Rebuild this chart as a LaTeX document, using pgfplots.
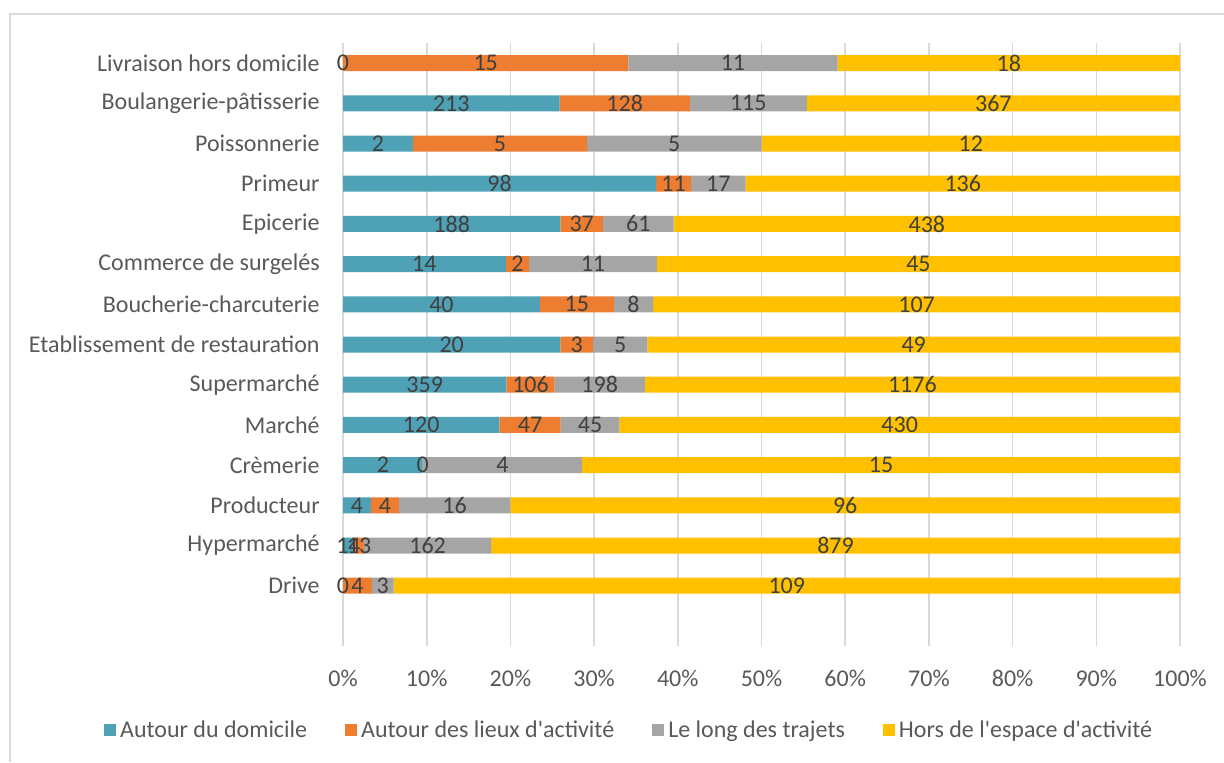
\documentclass[border=0pt]{standalone}
\usepackage{fontspec}
\setmainfont{Carlito}
\usepackage{pgfplots}
\usepackage{pgfplotstable}
\pgfplotsset{compat=1.18}

\definecolor{cA}{HTML}{4FA1B5}
\definecolor{cB}{HTML}{ED7D31}
\definecolor{cC}{HTML}{A5A5A5}
\definecolor{cD}{HTML}{FFC000}
\definecolor{gridgray}{HTML}{D9D9D9}
\definecolor{labgray}{HTML}{595959}
\definecolor{dlgray}{HTML}{404040}
\newcommand\lab{\fontsize{12}{14}\selectfont}
\newcommand\q{\textquotesingle}

% counts per place: A domicile, B lieux d'activite, C trajets, D hors espace
\pgfplotstableread{
idx A B C D
1 0 4 3 109
2 14 13 162 879
3 4 4 16 96
4 2 0 4 15
5 120 47 45 430
6 359 106 198 1176
7 20 3 5 49
8 40 15 8 107
9 14 2 11 45
10 188 37 61 438
11 98 11 17 136
12 2 5 5 12
13 213 128 115 367
14 0 15 11 18
}\data
\pgfplotstablecreatecol[create col/expr={\thisrow{A}+\thisrow{B}+\thisrow{C}+\thisrow{D}}]{T}\data
\pgfplotstablecreatecol[create col/expr={100*\thisrow{A}/\thisrow{T}}]{pA}\data
\pgfplotstablecreatecol[create col/expr={100*\thisrow{B}/\thisrow{T}}]{pB}\data
\pgfplotstablecreatecol[create col/expr={100*\thisrow{C}/\thisrow{T}}]{pC}\data
\pgfplotstablecreatecol[create col/expr={100*\thisrow{D}/\thisrow{T}}]{pD}\data
\pgfplotstablecreatecol[create col/expr={\thisrow{pA}/2}]{mA}\data
\pgfplotstablecreatecol[create col/expr={\thisrow{pA}+\thisrow{pB}/2}]{mB}\data
\pgfplotstablecreatecol[create col/expr={\thisrow{pA}+\thisrow{pB}+\thisrow{pC}/2}]{mC}\data
\pgfplotstablecreatecol[create col/expr={\thisrow{pA}+\thisrow{pB}+\thisrow{pC}+\thisrow{pD}/2}]{mD}\data

\begin{document}
\begin{tikzpicture}
\path[use as bounding box] (0,0) rectangle (612pt,381pt);
\draw[gridgray, line width=1pt] (5pt,0) -- (5pt,374pt) -- (612pt,374pt);

\pgfplotsset{base/.style={
    at={(171.5pt,58pt)}, anchor=south west,
    scale only axis, width=418.5pt, height=301.5pt,
    xmin=0, xmax=100, ymin=-0.5, ymax=14.5,
}}

\begin{axis}[
    base,
    xbar stacked,
    bar width=8pt,
    xtick={0,10,...,100},
    xticklabels={0\%,10\%,20\%,30\%,40\%,50\%,60\%,70\%,80\%,90\%,100\%},
    ytick={1,...,14},
    yticklabels={Drive,Hypermarché,Producteur,Crèmerie,Marché,Supermarché,
        Etablissement de restauration,Boucherie-charcuterie,Commerce de surgelés,
        Epicerie,Primeur,Poissonnerie,Boulangerie-pâtisserie,Livraison hors domicile},
    axis line style={draw=none},
    major tick length=0pt,
    xmajorgrids,
    grid style={draw=gridgray, line width=0.8pt},
    tick label style={font=\lab, text=labgray},
    yticklabel style={inner sep=0pt, anchor=east, xshift=-11.5pt},
    xticklabel style={inner sep=0pt, anchor=center, yshift=-16pt},
    legend columns=4,
    legend style={draw=none, fill=none, font=\lab, text=labgray,
        at={(0.343,-0.14)}, anchor=center,
        /tikz/every even column/.append style={column sep=17pt},
        inner sep=0pt},
    legend cell align=left,
    legend image code/.code={\fill[#1] (0pt,-3pt) rectangle (6pt,3pt);},
]
\addplot[fill=cA, draw=none] table[x=pA, y=idx]{\data};
\addplot[fill=cB, draw=none] table[x=pB, y=idx]{\data};
\addplot[fill=cC, draw=none] table[x=pC, y=idx]{\data};
\addplot[fill=cD, draw=none] table[x=pD, y=idx]{\data};
\legend{Autour du domicile, Autour des lieux d\q activité, Le long des trajets, Hors de l\q espace d\q activité}
\end{axis}

\begin{axis}[
    base,
    hide axis,
    nodes near coords,
    point meta=explicit symbolic,
    every node near coord/.append style={anchor=center, font=\lab, text=dlgray, inner sep=0pt},
]
\addplot[draw=none, mark=none] table[x=mA, y=idx, meta=A]{\data};
\addplot[draw=none, mark=none] table[x=mB, y=idx, meta=B]{\data};
\addplot[draw=none, mark=none] table[x=mC, y=idx, meta=C]{\data};
\addplot[draw=none, mark=none] table[x=mD, y=idx, meta=D]{\data};
\end{axis}
\end{tikzpicture}
\end{document}
